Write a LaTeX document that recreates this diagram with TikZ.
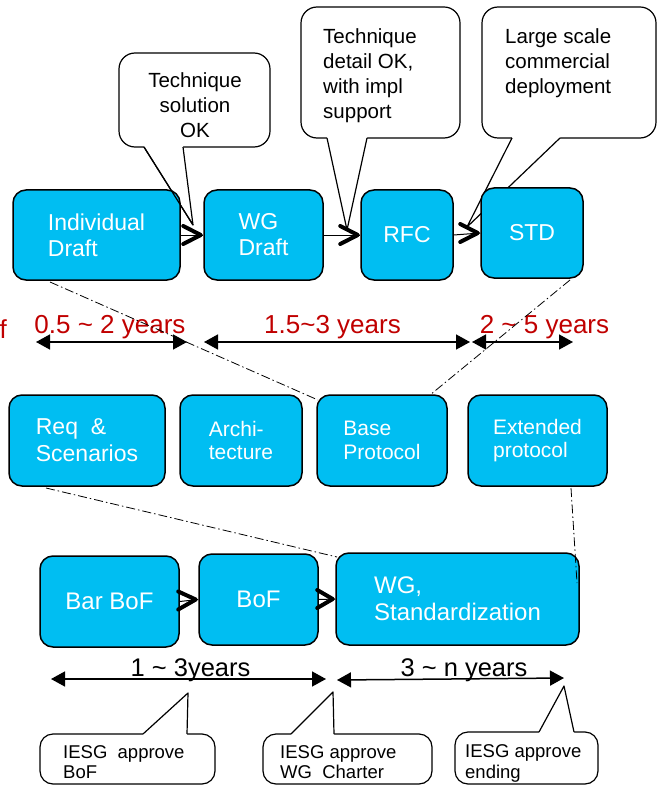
\documentclass[tikz,border=0pt]{standalone}
\usepackage{fontspec}
\setmainfont{Liberation Sans}
\usetikzlibrary{arrows.meta}
\definecolor{boxcyan}{RGB}{0,190,242}
\definecolor{labred}{RGB}{192,0,0}
\begin{document}
\begin{tikzpicture}[x=1pt,y=-1pt,
  stage/.style={draw=black, line width=1.5pt, fill=boxcyan, rounded corners=13pt, text=white, inner sep=0pt, align=left},
  bubble/.style={draw=black, line width=1.2pt, fill=white, rounded corners=16pt, inner sep=0pt},
  ptr/.style={draw=black, line width=1.2pt, line join=round},
  bubtext/.style={inner sep=0pt, font=\fontsize{20.5}{25}\selectfont},
  lowtext/.style={inner sep=0pt, anchor=west, align=left, font=\fontsize{18.5}{20.5}\selectfont},
  flow/.style={line width=1pt},
  chev/.style={line width=4pt, line cap=round, line join=round},
  span/.style={line width=1.5pt, {Triangle[length=14pt,width=15pt]}-{Triangle[length=14pt,width=15pt]}},
  guide/.style={line width=0.8pt, dash pattern=on 9pt off 3pt on 1.5pt off 3pt},
  redlab/.style={inner sep=0pt, anchor=base, text=labred, font=\fontsize{26}{30}\selectfont},
  blklab/.style={inner sep=0pt, anchor=base, font=\fontsize{25.5}{30}\selectfont},
  big/.style={font=\fontsize{23}{26}\selectfont},
  mid/.style={font=\fontsize{21}{23.5}\selectfont},
  bot/.style={font=\fontsize{24}{26.7}\selectfont}
]
\useasboundingbox (0,0) rectangle (657,786);

% ---- top callouts
\node[bubble, minimum width=151pt, minimum height=94pt] (c1) at (194.5,100) {};
\fill[white] (144,144) -- (144,147) -- (193,225) -- (183,147) -- (183,144) -- cycle;
\draw[ptr] (144,147) -- (193,225) -- (183,147);
\node[bubtext, align=center] (c1t) at (195,105.5) {Technique\\solution\\OK};

\node[bubble, minimum width=159pt, minimum height=131pt] (c2) at (380.5,72.5) {};
\fill[white] (327,135) -- (327,138) -- (347,230) -- (367,138) -- (367,135) -- cycle;
\draw[ptr] (327,138) -- (347,230) -- (367,138);
\node[bubtext, anchor=west, align=left] (c2t) at (323,76) {Technique\\detail OK,\\with impl\\support};

\node[bubble, minimum width=174pt, minimum height=131pt] (c3) at (569,72.5) {};
\fill[white] (512,135) -- (512,138) -- (467,227) -- (560,138) -- (560,135) -- cycle;
\draw[ptr] (512,138) -- (467,227) -- (560,138);
\node[bubtext, anchor=west, align=left] (c3t) at (505,63.6) {Large scale\\commercial\\deployment};

% ---- top row
\node[stage, big, minimum width=167pt, minimum height=90pt] (ind) at (96.5,235) {Individual\\Draft};
\node[stage, big, minimum width=119pt, minimum height=90pt] (wgd) at (263.5,235) {WG\\Draft};
\node[stage, big, minimum width=92pt, minimum height=90pt] (rfc) at (407,235) {RFC};
\node[stage, big, minimum width=102pt, minimum height=90pt] (std) at (532,233) {STD};
\draw[ptr] (144,147) -- (193,225);

\draw[flow] (ind.east) -- (wgd.west);
\draw[chev] ([shift={(-20,-9)}]wgd.west) -- ([xshift=-2.5pt]wgd.west) -- ([shift={(-20,9)}]wgd.west);
\draw[flow] (wgd.east) -- (rfc.west);
\draw[chev] ([shift={(-20,-9)}]rfc.west) -- ([xshift=-2.5pt]rfc.west) -- ([shift={(-20,9)}]rfc.west);
\draw[flow] (rfc.east) -- (std.west);
\draw[chev] ([shift={(-20,-9)}]std.west) -- ([xshift=-2.5pt]std.west) -- ([shift={(-20,9)}]std.west);

% ---- red durations
\node[inner sep=0pt, anchor=base west, text=labred, font=\fontsize{26}{30}\selectfont] (frag) at (-0.5,338) {f};
\node[redlab] (y1) at (110,333) {0.5 \textasciitilde{} 2 years};
\node[redlab] (y2) at (332.5,333) {1.5\textasciitilde3 years};
\node[redlab] (y3) at (544.5,333) {2 \textasciitilde{} 5 years};
\coordinate (s1a) at (36,342);  \coordinate (s1b) at (187,342);
\coordinate (s2a) at (204,342); \coordinate (s2b) at (470,342);
\coordinate (s3a) at (472,342); \coordinate (s3b) at (573,342);
\draw[span] (s1a) -- (s1b);
\draw[span] (s2a) -- (s2b);
\draw[span] (s3a) -- (s3b);

% ---- middle row
\node[stage, font=\fontsize{23}{27}\selectfont, minimum width=156pt, minimum height=91pt] (req) at (87,440.5) {Req\ \ \&\\Scenarios};
\node[stage, mid, minimum width=122pt, minimum height=91pt] (arch) at (241,440.5) {Archi-\\tecture};
\node[stage, mid, minimum width=130pt, minimum height=91pt] (base) at (382,440.5) {Base\\Protocol};
\node[stage, mid, minimum width=139pt, minimum height=91pt] (ext) at (537.5,440.5) {Extended\\protocol};

% ---- bottom row
\node[stage, bot, minimum width=139pt, minimum height=91pt] (barbof) at (109.5,601.5) {Bar BoF};
\node[stage, bot, minimum width=119pt, minimum height=91pt] (bof) at (258.5,599.5) {BoF};
\node[stage, bot, minimum width=243pt, minimum height=92pt] (wgs) at (457.5,599) {WG,\\Standardization};
\draw[flow] (barbof.east) -- (bof.west);
\draw[chev] ([shift={(-20,-8)}]bof.west) -- ([xshift=-2.5pt]bof.west) -- ([shift={(-20,10)}]bof.west);
\draw[flow] (bof.east) -- (wgs.west);
\draw[chev] ([shift={(-18,-9)}]wgs.west) -- ([xshift=-2.5pt]wgs.west) -- ([shift={(-18,9)}]wgs.west);

% ---- dash-dot guides
\coordinate (g1a) at (50,282);  \coordinate (g1b) at (318,400);
\coordinate (g2a) at (570,280); \coordinate (g2b) at (430,395);
\coordinate (g3a) at (46,488);  \coordinate (g3b) at (337,557);
\coordinate (g4a) at (571,488); \coordinate (g4b) at (577,583);
\draw[guide] (g1a) -- (g1b);
\draw[guide] (g2a) -- (g2b);
\draw[guide] (g3a) -- (g3b);
\draw[guide] (g4a) -- (g4b);

% ---- bottom durations
\node[blklab] (y4) at (190.5,676) {1 \textasciitilde{} 3years};
\node[blklab] (y5) at (464,676) {3 \textasciitilde{} n years};
\coordinate (s4a) at (51,679);  \coordinate (s4b) at (326,679);
\coordinate (s5a) at (337,680); \coordinate (s5b) at (564,678);
\draw[span] (s4a) -- (s4b);
\draw[span] (s5a) -- (s5b);

% ---- bottom callouts
\node[bubble, rounded corners=13pt, minimum width=175pt, minimum height=50pt] (b1) at (127.5,759) {};
\fill[white] (143,737) -- (143,734) -- (188,693) -- (187,734) -- (187,737) -- cycle;
\draw[ptr] (143,734) -- (188,693) -- (187,734);
\node[lowtext] (b1t) at (63,762) {IESG\ \ approve\\BoF};

\node[bubble, rounded corners=13pt, minimum width=169pt, minimum height=50pt] (b2) at (347.5,759) {};
\fill[white] (291,737) -- (291,734) -- (333,692) -- (334,734) -- (334,737) -- cycle;
\draw[ptr] (291,734) -- (333,692) -- (334,734);
\node[lowtext] (b2t) at (280,762) {IESG approve\\WG\ \ Charter};

\node[bubble, rounded corners=13pt, minimum width=143pt, minimum height=52pt] (b3) at (526.5,758) {};
\fill[white] (539,735) -- (539,732) -- (564,686) -- (574,732) -- (574,735) -- cycle;
\draw[ptr] (539,732) -- (564,686) -- (574,732);
\node[lowtext] (b3t) at (465,763.5) {IESG approve\\ending};

\end{tikzpicture}
\end{document}
